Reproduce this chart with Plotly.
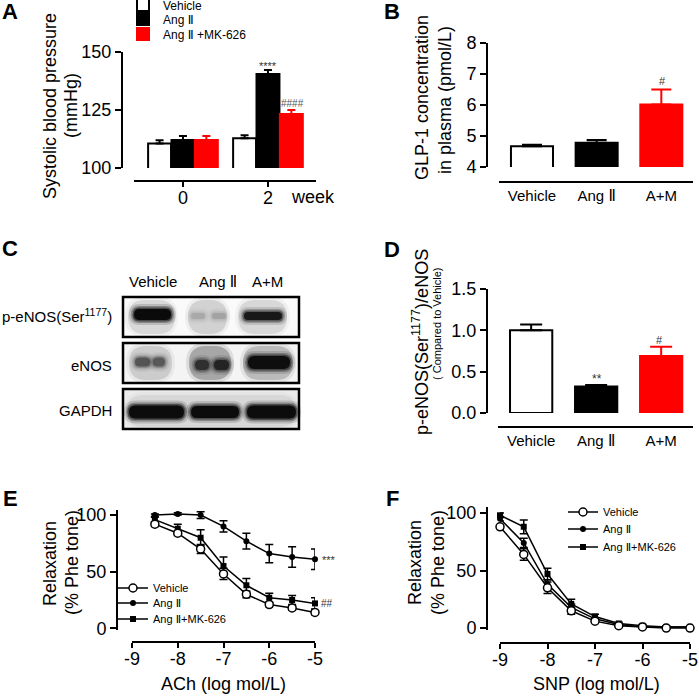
import plotly.graph_objects as go

W, H = 699, 697


def px(x):
    return x / W


def py(y):
    return 1 - y / H


FONT = "Arial, 'Liberation Sans', 'DejaVu Sans', sans-serif"
RED = "#ff0000"

# ---------------- Panel A data ----------------
weeks = ["0", "2"]
sbp_vehicle = [110.6, 112.8]
sbp_vehicle_err = [1.4, 1.3]
sbp_ang = [112.1, 140.5]
sbp_ang_err = [1.7, 1.7]
sbp_mk = [112.1, 123.3]
sbp_mk_err = [1.7, 1.7]
a_ticks = [100, 125, 150]

# ---------------- Panel B data ----------------
groups = ["Vehicle", "Ang Ⅱ", "A+M"]
glp1 = [4.67, 4.78, 6.02]
glp1_err = [0.05, 0.09, 0.48]
b_ticks = [4, 5, 6, 7, 8]

# ---------------- Panel D data ----------------
ratio = [1.00, 0.32, 0.69]
ratio_err = [0.07, 0.02, 0.11]
d_ticks = [0.0, 0.5, 1.0, 1.5]

# ---------------- Panel E data ----------------
ach_x = [-8.5, -8, -7.5, -7, -6.5, -6, -5.5, -5]
ach_vehicle = [92, 84, 70, 48, 30, 21, 18, 14]
ach_vehicle_err = [2, 2, 4, 5, 3, 2, 2, 2]
ach_ang = [100, 101, 100, 90, 77, 66, 63, 61]
ach_ang_err = [1, 1, 3, 5, 7, 8, 9, 9]
ach_mk = [96, 88, 80, 55, 38, 27, 25, 22]
ach_mk_err = [2, 4, 7, 8, 6, 4, 4, 5]

# ---------------- Panel F data ----------------
snp_x = [-9, -8.5, -8, -7.5, -7, -6.5, -6, -5.5, -5]
snp_vehicle = [88, 64, 35, 15, 6, 2, 1, 0, 0]
snp_vehicle_err = [2, 5, 5, 3, 1, 1, 1, 1, 1]
snp_ang = [95, 74, 38, 18, 8, 3, 1, 1, 1]
snp_ang_err = [2, 4, 4, 3, 1, 1, 1, 1, 1]
snp_mk = [98, 88, 47, 21, 10, 4, 2, 1, 1]
snp_mk_err = [2, 6, 5, 4, 2, 1, 1, 1, 1]
log_ticks = [-9, -8, -7, -6, -5]
log_ticktext = ["-9", "-8", "-7", "-6", "-5"]
relax_ticks = [0, 50, 100]

series_names = ["Vehicle", "Ang Ⅱ", "Ang Ⅱ+MK-626"]

fig = go.Figure()


def err(arr, color, width, thick=2, up_only=True):
    d = dict(type="data", array=arr, color=color, thickness=thick, width=width, visible=True)
    if up_only:
        d.update(symmetric=False, arrayminus=[0] * len(arr))
    return d


# ---- Panel A bars ----
a_specs = [
    ("Vehicle", sbp_vehicle, sbp_vehicle_err, "white", "black", -0.41, "legend"),
    ("Ang Ⅱ", sbp_ang, sbp_ang_err, "black", "black", -0.135, "legend2"),
    ("Ang Ⅱ +MK-626", sbp_mk, sbp_mk_err, RED, RED, 0.14, "legend3"),
]
for name, vals, e, fill, lc, off, lg in a_specs:
    fig.add_trace(go.Bar(
        x=weeks, y=vals, name=name, width=0.27, offset=off,
        marker=dict(color=fill, line=dict(color=lc, width=2)),
        error_y=err(e, lc, 4), xaxis="x", yaxis="y", legend=lg,
    ))

# ---- Panel B bars ----
b_fill = ["white", "black", RED]
b_line = ["black", "black", RED]
for i, g in enumerate(groups):
    fig.add_trace(go.Bar(
        x=[g], y=[glp1[i]], width=0.65, offset=-0.325,
        marker=dict(color=b_fill[i], line=dict(color=b_line[i], width=2)),
        error_y=err([glp1_err[i]], b_line[i], 10), xaxis="x2", yaxis="y2", showlegend=False,
    ))

# ---- Panel D bars ----
for i, g in enumerate(groups):
    fig.add_trace(go.Bar(
        x=[g], y=[ratio[i]], width=0.65, offset=-0.325,
        marker=dict(color=b_fill[i], line=dict(color=b_line[i], width=2)),
        error_y=err([ratio_err[i]], b_line[i], 11), xaxis="x3", yaxis="y3", showlegend=False,
    ))

# ---- Panels E and F curves ----
markers = [
    dict(symbol="circle", size=8, color="white", line=dict(color="black", width=1.5)),
    dict(symbol="circle", size=6, color="black"),
    dict(symbol="square", size=6, color="black"),
]
e_vals = [(ach_mk, ach_mk_err, 2), (ach_ang, ach_ang_err, 1), (ach_vehicle, ach_vehicle_err, 0)]
f_vals = [(snp_mk, snp_mk_err, 2), (snp_ang, snp_ang_err, 1), (snp_vehicle, snp_vehicle_err, 0)]
for xs, vals_list, xa, ya, lg0 in [(ach_x, e_vals, "x4", "y4", 4), (snp_x, f_vals, "x5", "y5", 7)]:
    for vals, e, k in vals_list:
        fig.add_trace(go.Scatter(
            x=xs, y=vals, mode="lines+markers", name=series_names[k],
            line=dict(color="black", width=1.5), marker=markers[k],
            error_y=dict(type="data", array=e, color="black", thickness=1.5, width=4),
            cliponaxis=False, xaxis=xa, yaxis=ya, legend=f"legend{lg0 + k}",
        ))

axis_common = dict(showline=True, linecolor="black", linewidth=2, showgrid=False, zeroline=False,
                   tickcolor="black", tickwidth=2, ticklen=6, ticks="outside",
                   tickfont=dict(size=18, color="black", family=FONT), anchor="free")

layout = dict(
    width=W, height=H, margin=dict(l=0, r=0, t=0, b=0, autoexpand=False),
    paper_bgcolor="white", plot_bgcolor="rgba(0,0,0,0)",
    font=dict(family=FONT, color="black"),
    barmode="overlay",
    xaxis=dict(axis_common, type="category", categoryorder="array", categoryarray=weeks,
               range=[-0.576, 1.565], domain=[px(134), px(316)], position=py(181),
               ticklen=5, ticklabelstandoff=-5),
    yaxis=dict(axis_common, range=[100, 150], tickvals=a_ticks,
               domain=[py(168), py(52)], position=px(122)),
    xaxis2=dict(axis_common, type="category", categoryorder="array", categoryarray=groups,
                range=[-0.51, 2.49], domain=[px(499), px(693)], position=py(182), ticks="",
                tickfont=dict(size=15, color="black", family=FONT)),
    yaxis2=dict(axis_common, range=[4, 8], tickvals=b_ticks,
                domain=[py(167), py(43)], position=px(487)),
    xaxis3=dict(axis_common, type="category", categoryorder="array", categoryarray=groups,
                range=[-0.51, 2.49], domain=[px(498), px(693)], position=py(427), ticks="",
                tickfont=dict(size=15, color="black", family=FONT)),
    yaxis3=dict(axis_common, range=[0, 1.5], tickvals=d_ticks, tickformat=".1f",
                domain=[py(413), py(289)], position=px(487)),
    xaxis4=dict(axis_common, range=[-9, -5], tickvals=log_ticks, ticktext=log_ticktext,
                domain=[px(132), px(315)], position=py(642), ticklen=5, ticklabelstandoff=-5),
    yaxis4=dict(axis_common, range=[-1.5, 104.5], tickvals=relax_ticks,
                domain=[py(630), py(510)], position=px(117)),
    xaxis5=dict(axis_common, range=[-9, -5], tickvals=log_ticks, ticktext=log_ticktext,
                domain=[px(500), px(690)], position=py(643), ticklen=5, ticklabelstandoff=-5),
    yaxis5=dict(axis_common, range=[-1.7, 105.2], tickvals=relax_ticks,
                domain=[py(630), py(507)], position=px(487)),
)

# legends (one per entry so spacing matches)
legend_pos = {
    "legend": (123, 5, 12), "legend2": (123, 19, 12), "legend3": (123, 34, 12),
    "legend4": (113, 588, 11), "legend5": (113, 603, 11), "legend6": (113, 619, 11),
    "legend7": (563, 512, 11), "legend8": (563, 529, 11), "legend9": (563, 547, 11),
}
for key, (lx, ly, fs) in legend_pos.items():
    layout[key] = dict(x=px(lx), y=py(ly), xanchor="left", yanchor="middle",
                       bgcolor="rgba(0,0,0,0)", borderwidth=0,
                       font=dict(size=fs, family=FONT, color="black"))

fig.update_layout(**layout)

# ---------------- annotations ----------------
ann = []


def text(x, y, s, size=18, angle=0, xanchor="center", color="black", bold=False):
    ann.append(dict(x=px(x), y=py(y), xref="paper", yref="paper", text=f"<b>{s}</b>" if bold else s,
                    showarrow=False, textangle=angle, xanchor=xanchor, yanchor="middle",
                    font=dict(size=size, family=FONT, color=color)))


for lab, x, y in [("A", 10, 12), ("B", 392, 12), ("C", 10, 248), ("D", 392, 250), ("E", 10, 498), ("F", 392, 498)]:
    text(x, y, lab, size=22, bold=True)

# A
text(50, 106, "Systolic blood pressure", angle=-90)
text(71, 106, "(mmHg)", angle=-90)
text(313, 197, "week")
text(268, 66, "****", size=11, color="#333333")
text(292, 104, "####", size=10, color="#555555")
# B
text(422, 97, "GLP-1 concentration", angle=-90)
text(445, 100, "in plasma (pmol/L)", angle=-90)
text(662, 81, "#", size=11, color="#333333")
# C
text(153, 282, "Vehicle", size=15)
text(218, 282, "Ang Ⅱ", size=15)
text(267, 282, "A+M", size=15)
text(114, 315, "p-eNOS(Ser<sup>1177</sup>)", size=15, xanchor="right")
text(114, 365, "eNOS", size=15, xanchor="right")
text(114, 410, "GAPDH", size=15, xanchor="right")
# D
text(420, 342, "p-eNOS(Ser<sup>1177</sup>)/eNOS", angle=-90)
text(437, 324, "( Compared to Vehicle)", size=11, angle=-90)
text(597, 379, "**", size=12, color="#333333")
text(659, 340, "#", size=11, color="#333333")
# E
text(50, 564, "Relaxation", angle=-90)
text(72, 563, "(% Phe tone)", angle=-90)
text(223, 684, "ACh (log mol/L)")
text(329, 560, "***", size=11, color="#333333")
text(327, 603, "##", size=10, color="#333333")
# F
text(415, 563, "Relaxation", angle=-90)
text(438, 563, "(% Phe tone)", angle=-90)
text(596, 684, "SNP (log mol/L)")

fig.update_layout(annotations=ann)

# ---------------- western blot (panel C) ----------------
shapes = []


def rrect(x0, y0, x1, y1, r):
    r = min(r, (x1 - x0) / 2, (y1 - y0) / 2)
    pts = [
        f"M {px(x0 + r)} {py(y0)}", f"L {px(x1 - r)} {py(y0)}",
        f"Q {px(x1)} {py(y0)} {px(x1)} {py(y0 + r)}", f"L {px(x1)} {py(y1 - r)}",
        f"Q {px(x1)} {py(y1)} {px(x1 - r)} {py(y1)}", f"L {px(x0 + r)} {py(y1)}",
        f"Q {px(x0)} {py(y1)} {px(x0)} {py(y1 - r)}", f"L {px(x0)} {py(y0 + r)}",
        f"Q {px(x0)} {py(y0)} {px(x0 + r)} {py(y0)}", "Z",
    ]
    return " ".join(pts)


boxes = [(297, 337, "#fafafa"), (343, 383, "#f4f4f4"), (389, 429, "#ebebeb")]
for y0, y1, bg in boxes:
    shapes.append(dict(type="rect", xref="paper", yref="paper", x0=px(123), x1=px(299),
                       y0=py(y1), y1=py(y0), fillcolor=bg, line=dict(width=0), layer="above"))


def soft(x0, x1, y0, y1, op, layers=((5, 0.15), (3, 0.3), (1.5, 0.5), (0, 1.0)), color="#080808"):
    h = y1 - y0
    for grow, f in layers:
        shapes.append(dict(type="path", xref="paper", yref="paper",
                           path=rrect(x0 - grow, y0 - grow, x1 + grow, y1 + grow, h / 2 + grow),
                           fillcolor=color, opacity=op * f, line=dict(width=0), layer="above"))


def lane(x0, x1, y0, y1, op):
    soft(x0, x1, y0, y1, op, layers=((3, 0.4), (0, 1.0)))


def band(x0, x1, yc, h, op):
    soft(x0, x1, yc - h / 2, yc + h / 2, op)


# lanes (background smear)
for (x0, x1), op in zip([(128, 175), (188, 227), (238, 287)], [0.10, 0.12, 0.10]):
    lane(x0, x1, 300, 334, op)
for (x0, x1), op in zip([(129, 172), (189, 231), (243, 293)], [0.12, 0.25, 0.18]):
    lane(x0, x1, 346, 380, op)
lane(127, 296, 395, 427, 0.06)

# row 1 p-eNOS
band(134, 171, 314.5, 11, 0.97)
band(191, 205, 316, 6, 0.10)
band(212, 226, 316, 6, 0.12)
band(244, 282, 316, 8, 0.80)
# row 2 eNOS
band(135, 150, 362, 9, 0.40)
band(153, 165, 362, 9, 0.38)
band(195, 209, 365, 10, 0.55)
band(214, 229, 365, 10, 0.65)
band(248, 290, 362.5, 13, 0.90)
# row 3 GAPDH
band(129, 184, 412, 13, 0.95)
band(191, 239, 412, 12, 0.93)
band(247, 296, 412, 13, 0.95)

for y0, y1, bg in boxes:
    shapes.append(dict(type="rect", xref="paper", yref="paper", x0=px(123), x1=px(299),
                       y0=py(y1), y1=py(y0), fillcolor="rgba(0,0,0,0)",
                       line=dict(color="black", width=2.5), layer="above"))

fig.update_layout(shapes=shapes)

fig.write_html("out.html", config={"displayModeBar": False},
               post_script="document.body.style.margin='0';")
